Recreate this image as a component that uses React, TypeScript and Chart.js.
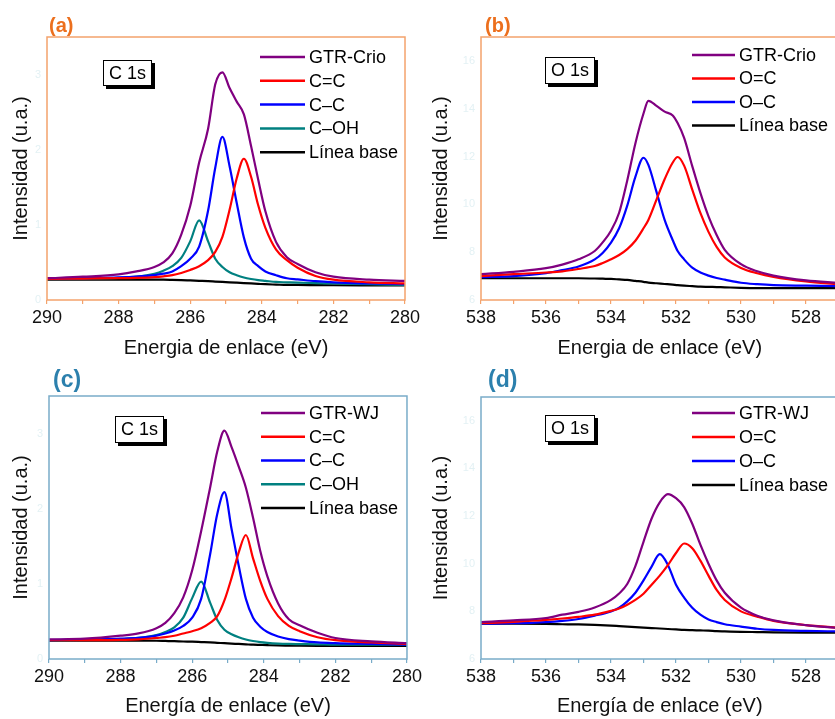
import React, { useEffect, useRef } from 'react';
import { Chart, registerables } from 'chart.js';

Chart.register(...registerables);

const FONT = "'Liberation Sans', Arial, sans-serif";

// ---------- C 1s panels (a) and (c) ----------
const energiaC1s = [290, 289, 288, 287.5, 287, 286.75, 286.5, 286.25, 286, 285.75, 285.5, 285.3, 285.1, 284.9, 284.7, 284.5, 284.3, 284.1, 283.9, 283.6, 283.3, 283, 282.5, 282, 281, 280];
const ticksXC1s = [290, 289, 288, 287, 286, 285, 284, 283, 282, 281, 280];
const ticksYC1s = [0, 1, 2, 3];

// (a) GTR-Crio
const aGTR = [0.29, 0.31, 0.34, 0.38, 0.44, 0.50, 0.62, 0.87, 1.25, 1.83, 2.28, 2.87, 3.03, 2.82, 2.64, 2.47, 2.05, 1.60, 1.18, 0.77, 0.57, 0.48, 0.37, 0.31, 0.27, 0.255];
const aCdC = [0.28, 0.285, 0.29, 0.295, 0.305, 0.315, 0.33, 0.36, 0.40, 0.45, 0.53, 0.64, 0.84, 1.20, 1.62, 1.88, 1.64, 1.26, 0.96, 0.67, 0.53, 0.43, 0.32, 0.27, 0.235, 0.22];
const aCC = [0.28, 0.29, 0.30, 0.31, 0.33, 0.35, 0.38, 0.45, 0.55, 0.71, 1.19, 1.76, 2.17, 1.78, 1.29, 0.83, 0.55, 0.45, 0.38, 0.33, 0.29, 0.275, 0.25, 0.235, 0.22, 0.21];
const aCOH = [0.28, 0.285, 0.295, 0.31, 0.35, 0.39, 0.45, 0.56, 0.78, 1.06, 0.78, 0.55, 0.44, 0.37, 0.33, 0.30, 0.28, 0.265, 0.255, 0.24, 0.235, 0.23, 0.225, 0.22, 0.21, 0.20];
const aBase = [0.27, 0.27, 0.27, 0.27, 0.27, 0.27, 0.268, 0.265, 0.26, 0.255, 0.25, 0.245, 0.24, 0.235, 0.23, 0.225, 0.22, 0.215, 0.21, 0.205, 0.20, 0.20, 0.198, 0.196, 0.195, 0.195];

// (c) GTR-WJ
const cGTR = [0.26, 0.27, 0.31, 0.34, 0.41, 0.48, 0.61, 0.82, 1.18, 1.70, 2.28, 2.76, 3.04, 2.82, 2.56, 2.28, 1.88, 1.44, 1.10, 0.74, 0.53, 0.45, 0.35, 0.28, 0.235, 0.21];
const cCdC = [0.25, 0.25, 0.255, 0.26, 0.28, 0.29, 0.31, 0.34, 0.37, 0.41, 0.48, 0.57, 0.78, 1.08, 1.42, 1.65, 1.34, 1.04, 0.80, 0.57, 0.44, 0.37, 0.29, 0.25, 0.22, 0.20];
const cCC = [0.25, 0.26, 0.27, 0.28, 0.31, 0.34, 0.38, 0.44, 0.55, 0.80, 1.39, 1.93, 2.22, 1.73, 1.24, 0.80, 0.55, 0.43, 0.36, 0.30, 0.265, 0.245, 0.22, 0.21, 0.20, 0.19];
const cCOH = [0.25, 0.255, 0.265, 0.28, 0.32, 0.36, 0.42, 0.55, 0.81, 1.03, 0.75, 0.52, 0.39, 0.33, 0.29, 0.26, 0.24, 0.225, 0.215, 0.205, 0.20, 0.198, 0.195, 0.19, 0.19, 0.19];
const cBase = [0.245, 0.245, 0.245, 0.245, 0.243, 0.24, 0.237, 0.233, 0.23, 0.225, 0.22, 0.215, 0.21, 0.205, 0.20, 0.195, 0.19, 0.187, 0.184, 0.18, 0.178, 0.176, 0.175, 0.175, 0.175, 0.175];

// ---------- O 1s panels (b) and (d) ----------
const ticksXO1s = [538, 537, 536, 535, 534, 533, 532, 531, 530, 529, 528, 527];
const ticksYO1s = [6, 8, 10, 12, 14, 16];

// (b) GTR-Crio
const energiaO1sB = [538, 537, 536, 535.5, 535, 534.5, 534.25, 534, 533.75, 533.5, 533.25, 533, 532.85, 532.6, 532.35, 532.1, 531.95, 531.75, 531.5, 531.25, 531, 530.75, 530.5, 530, 529.5, 529, 528, 527];
const bGTR = [7.08, 7.18, 7.33, 7.48, 7.70, 8.05, 8.42, 8.90, 9.65, 11.0, 12.55, 13.8, 14.33, 14.12, 13.88, 13.72, 13.40, 12.78, 11.60, 10.48, 9.50, 8.72, 8.10, 7.50, 7.20, 7.02, 6.82, 6.72];
const bOdC = [7.0, 7.08, 7.15, 7.20, 7.30, 7.42, 7.55, 7.70, 7.88, 8.13, 8.48, 9.0, 9.35, 10.2, 11.05, 11.75, 11.98, 11.62, 10.62, 9.64, 8.85, 8.22, 7.78, 7.34, 7.12, 6.97, 6.78, 6.66];
const bOC = [6.96, 7.0, 7.12, 7.25, 7.40, 7.70, 7.98, 8.40, 9.0, 9.95, 11.15, 11.95, 11.65, 10.52, 9.35, 8.50, 8.05, 7.70, 7.35, 7.15, 7.02, 6.92, 6.85, 6.72, 6.66, 6.62, 6.60, 6.58];
const bBase = [6.91, 6.91, 6.91, 6.91, 6.91, 6.90, 6.89, 6.88, 6.86, 6.84, 6.80, 6.76, 6.73, 6.70, 6.67, 6.64, 6.62, 6.60, 6.58, 6.56, 6.55, 6.54, 6.53, 6.51, 6.50, 6.50, 6.50, 6.50];

// (d) GTR-WJ
const energiaO1sD = [538, 537, 536, 535.5, 535, 534.5, 534, 533.75, 533.5, 533.25, 533, 532.75, 532.5, 532.25, 532, 531.75, 531.5, 531.25, 531, 530.75, 530.5, 530, 529.5, 529, 528, 527];
const dGTR = [7.55, 7.62, 7.72, 7.86, 7.98, 8.16, 8.48, 8.75, 9.15, 9.90, 10.92, 11.90, 12.58, 12.92, 12.75, 12.38, 11.68, 10.80, 10.0, 9.30, 8.78, 8.16, 7.82, 7.62, 7.42, 7.30];
const dOdC = [7.50, 7.56, 7.64, 7.70, 7.77, 7.86, 8.02, 8.12, 8.28, 8.48, 8.74, 9.12, 9.50, 9.94, 10.45, 10.85, 10.65, 10.13, 9.50, 8.90, 8.48, 8.00, 7.78, 7.60, 7.42, 7.32];
const dOC = [7.48, 7.50, 7.55, 7.60, 7.68, 7.82, 8.00, 8.15, 8.42, 8.78, 9.30, 9.88, 10.40, 9.95, 9.12, 8.58, 8.15, 7.86, 7.66, 7.55, 7.46, 7.36, 7.27, 7.22, 7.18, 7.16];
const dBase = [7.48, 7.48, 7.47, 7.46, 7.45, 7.43, 7.40, 7.38, 7.36, 7.34, 7.32, 7.30, 7.28, 7.26, 7.24, 7.22, 7.21, 7.20, 7.19, 7.17, 7.16, 7.14, 7.13, 7.12, 7.11, 7.11];

const PURPLE = '#800080';
const RED = '#ff0000';
const BLUE = '#0000ff';
const TEAL = '#008080';
const BLACK = '#000000';
const ORANGE_FRAME = '#f4a36c';
const ORANGE_LABEL = '#ec6f1d';
const BLUE_FRAME = '#79acc9';
const BLUE_LABEL = '#2c80ad';
const FAINT = '#e3f1f4';

const decorPlugin = {
  id: 'xpsDecor',
  afterDraw(chart: any, _args: any, o: any) {
    const { ctx, chartArea: ca } = chart;
    ctx.save();
    // frame
    ctx.strokeStyle = o.frame;
    ctx.lineWidth = 1.5;
    ctx.strokeRect(ca.left, ca.top, ca.right - ca.left, ca.bottom - ca.top);
    // panel label
    ctx.fillStyle = o.labelColor;
    ctx.font = `bold ${o.labelSize}px ${FONT}`;
    ctx.textBaseline = 'middle';
    ctx.textAlign = 'left';
    ctx.fillText(o.label, o.labelX, o.labelY);
    // "C 1s" box with shadow
    const b = o.box;
    const bx = Math.round(ca.left + b.dx);
    const by = Math.round(ca.top + b.dy);
    ctx.fillStyle = '#000';
    ctx.fillRect(bx + 3, by + 3, b.w, b.h);
    ctx.fillStyle = '#fff';
    ctx.fillRect(bx, by, b.w, b.h);
    ctx.strokeStyle = '#000';
    ctx.lineWidth = 1;
    ctx.strokeRect(bx + 0.5, by + 0.5, b.w - 1, b.h - 1);
    ctx.fillStyle = '#000';
    ctx.font = `18px ${FONT}`;
    ctx.textAlign = 'center';
    ctx.fillText(b.text, bx + b.w / 2, by + b.h / 2 + 1);
    // legend
    const lg = o.legend;
    chart.data.datasets.forEach((ds: any, i: number) => {
      const y = ca.top + lg.dy + i * lg.rowH;
      const x0 = ca.left + lg.dx;
      ctx.strokeStyle = ds.borderColor;
      ctx.lineWidth = 2.5;
      ctx.beginPath();
      ctx.moveTo(x0, y);
      ctx.lineTo(x0 + lg.lineLen, y);
      ctx.stroke();
      ctx.fillStyle = '#000';
      ctx.font = `18px ${FONT}`;
      ctx.textAlign = 'left';
      ctx.fillText(ds.label, x0 + lg.lineLen + 4, y + 1);
    });
    ctx.restore();
  },
};

function toPoints(xs: number[], ys: number[]) {
  return xs.map((x, i) => ({ x, y: ys[i] }));
}

function Panel(props: any) {
  const ref = useRef<HTMLCanvasElement | null>(null);
  const p = props.cfg;
  useEffect(() => {
    if (!ref.current) return;
    const chart = new Chart(ref.current, {
      type: 'line',
      data: {
        datasets: p.series.map((s: any) => ({
          label: s.label,
          data: toPoints(p.xs, s.data),
          borderColor: s.color,
          backgroundColor: s.color,
          borderWidth: 2.2,
          pointRadius: 0,
          cubicInterpolationMode: 'monotone',
          fill: false,
        })),
      },
      options: {
        responsive: false,
        maintainAspectRatio: false,
        animation: false,
        events: [],
        layout: { padding: p.padding },
        plugins: {
          legend: { display: false },
          tooltip: { enabled: false },
          xpsDecor: p.decor,
        } as any,
        scales: {
          x: {
            type: 'linear',
            min: p.xMin,
            max: p.xMax,
            reverse: true,
            afterBuildTicks: (s: any) => {
              s.ticks = p.xTicks.map((v: number) => ({ value: v }));
            },
            afterFit: (s: any) => {
              s.height = p.xH;
            },
            grid: { drawOnChartArea: false, drawTicks: true, tickLength: 4, color: p.decor.frame, lineWidth: 1.2 },
            border: { display: false },
            ticks: {
              autoSkip: false,
              maxRotation: 0,
              padding: 3,
              color: '#111',
              font: { family: FONT, size: 18 },
              callback: (v: any) => (Number(v) % 2 === 0 ? String(v) : ''),
            },
            title: {
              display: true,
              text: p.xTitle,
              color: '#111',
              font: { family: FONT, size: 20 },
              padding: { top: 0, bottom: p.xTitlePad },
            },
          },
          y: {
            type: 'linear',
            min: p.yMin,
            max: p.yMax,
            afterBuildTicks: (s: any) => {
              s.ticks = p.yTicks.map((v: number) => ({ value: v }));
            },
            afterFit: (s: any) => {
              s.width = p.yW;
            },
            grid: { drawOnChartArea: false, drawTicks: false },
            border: { display: false },
            ticks: {
              padding: 6,
              color: FAINT,
              font: { family: FONT, size: 11 },
            },
            title: {
              display: true,
              text: 'Intensidad (u.a.)',
              color: '#111',
              font: { family: FONT, size: 20 },
              padding: { top: 9, bottom: 0 },
            },
          },
        },
      } as any,
      plugins: [decorPlugin as any],
    });
    return () => chart.destroy();
  }, []);
  return (
    <canvas
      ref={ref}
      width={p.w}
      height={p.h}
      style={{ position: 'absolute', left: p.left, top: p.top, width: p.w, height: p.h }}
    />
  );
}

const panels = [
  {
    left: 0, top: 0, w: 425, h: 370,
    padding: { left: 0, top: 37, right: 20, bottom: 0 }, yW: 47, xH: 70, xTitlePad: 9.5,
    xs: energiaC1s, xMin: 280, xMax: 290, xTicks: ticksXC1s, yMin: 0, yMax: 3.5, yTicks: ticksYC1s,
    xTitle: 'Energia de enlace (eV)',
    series: [
      { label: 'GTR-Crio', data: aGTR, color: PURPLE },
      { label: 'C=C', data: aCdC, color: RED },
      { label: 'C\u2013C', data: aCC, color: BLUE },
      { label: 'C\u2013OH', data: aCOH, color: TEAL },
      { label: 'L\u00ednea base', data: aBase, color: BLACK },
    ],
    decor: {
      frame: ORANGE_FRAME, labelColor: ORANGE_LABEL, label: '(a)', labelSize: 20, labelX: 49, labelY: 26,
      box: { dx: 56, dy: 23, w: 49, h: 26, text: 'C 1s' },
      legend: { dx: 213, dy: 20, rowH: 23.8, lineLen: 45 },
    },
  },
  {
    left: 420, top: 0, w: 425, h: 370,
    padding: { left: 0, top: 37, right: 6.5, bottom: 0 }, yW: 61, xH: 70, xTitlePad: 9.5,
    xs: energiaO1sB, xMin: 527, xMax: 538, xTicks: ticksXO1s, yMin: 6, yMax: 17, yTicks: ticksYO1s,
    xTitle: 'Energia de enlace (eV)',
    series: [
      { label: 'GTR-Crio', data: bGTR, color: PURPLE },
      { label: 'O=C', data: bOdC, color: RED },
      { label: 'O\u2013C', data: bOC, color: BLUE },
      { label: 'L\u00ednea base', data: bBase, color: BLACK },
    ],
    decor: {
      frame: ORANGE_FRAME, labelColor: ORANGE_LABEL, label: '(b)', labelSize: 20, labelX: 65, labelY: 26,
      box: { dx: 64, dy: 20, w: 50, h: 27, text: 'O 1s' },
      legend: { dx: 211, dy: 18, rowH: 23.5, lineLen: 43 },
    },
  },
  {
    left: 0, top: 360, w: 425, h: 359,
    padding: { left: 0, top: 36, right: 18, bottom: 0 }, yW: 49, xH: 60, xTitlePad: 1,
    xs: energiaC1s, xMin: 280, xMax: 290, xTicks: ticksXC1s, yMin: 0, yMax: 3.5, yTicks: ticksYC1s,
    xTitle: 'Energ\u00eda de enlace (eV)',
    series: [
      { label: 'GTR-WJ', data: cGTR, color: PURPLE },
      { label: 'C=C', data: cCdC, color: RED },
      { label: 'C\u2013C', data: cCC, color: BLUE },
      { label: 'C\u2013OH', data: cCOH, color: TEAL },
      { label: 'L\u00ednea base', data: cBase, color: BLACK },
    ],
    decor: {
      frame: BLUE_FRAME, labelColor: BLUE_LABEL, label: '(c)', labelSize: 23, labelX: 53, labelY: 21,
      box: { dx: 66, dy: 20, w: 49, h: 27, text: 'C 1s' },
      legend: { dx: 212, dy: 17, rowH: 23.75, lineLen: 44 },
    },
  },
  {
    left: 420, top: 360, w: 425, h: 359,
    padding: { left: 0, top: 37, right: 6.5, bottom: 0 }, yW: 61, xH: 60, xTitlePad: 1,
    xs: energiaO1sD, xMin: 527, xMax: 538, xTicks: ticksXO1s, yMin: 6, yMax: 17, yTicks: ticksYO1s,
    xTitle: 'Energ\u00eda de enlace (eV)',
    series: [
      { label: 'GTR-WJ', data: dGTR, color: PURPLE },
      { label: 'O=C', data: dOdC, color: RED },
      { label: 'O\u2013C', data: dOC, color: BLUE },
      { label: 'L\u00ednea base', data: dBase, color: BLACK },
    ],
    decor: {
      frame: BLUE_FRAME, labelColor: BLUE_LABEL, label: '(d)', labelSize: 23, labelX: 68, labelY: 21,
      box: { dx: 64, dy: 18, w: 50, h: 27, text: 'O 1s' },
      legend: { dx: 211, dy: 16, rowH: 24, lineLen: 43 },
    },
  },
];

export default function App() {
  return (
    <div
      style={{
        position: 'absolute', left: 0, top: 0, width: 835, height: 719,
        overflow: 'hidden', background: '#ffffff',
      }}
    >
      {panels.map((cfg, i) => (
        <Panel key={i} cfg={cfg} />
      ))}
    </div>
  );
}
